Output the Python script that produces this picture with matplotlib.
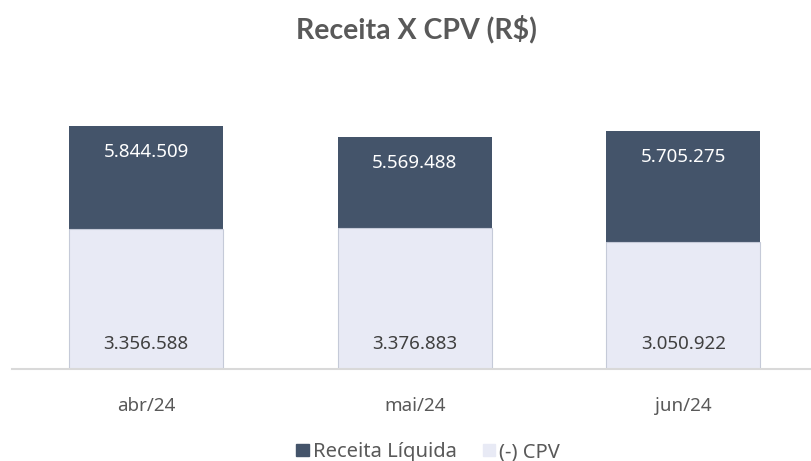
import matplotlib
matplotlib.use("Agg")
import matplotlib.pyplot as plt
from matplotlib.patches import Patch

categories = ["abr/24", "mai/24", "jun/24"]
receita = [5844509, 5569488, 5705275]
cpv = [3356588, 3376883, 3050922]
title = "Receita X CPV (R$)"
series_names = ["Receita Líquida", "(-) CPV"]

def fmt(v):
    return f"{v:,}".replace(",", ".")

dark = "#44546a"
light = "#e8eaf5"
light_edge = "#c5cad8"
text_gray = "#595959"
FONT = "Noto Sans"

fig = plt.figure(figsize=(8.11, 4.61), dpi=100)
ax = fig.add_axes([12/811, 1 - 369/461, 799/811, (369 - 77.4)/461])

x = list(range(len(categories)))
w = 0.574
ax.bar(x, receita, width=w, color=dark, zorder=2)
ax.bar(x, cpv, width=w, color=light, edgecolor=light_edge, linewidth=0.8, zorder=3)

for xi, r, c in zip(x, receita, cpv):
    ax.annotate(fmt(r), (xi, r), xytext=(0, -26), textcoords="offset pixels",
                ha="center", va="center", color="white", fontsize=13.5,
                family=FONT, zorder=5)
    ax.annotate(fmt(c), (xi, 0), xytext=(0, 25), textcoords="offset pixels",
                ha="center", va="center", color="#404040", fontsize=13.5,
                family=FONT, zorder=5)

ax.set_xlim(-0.5, -0.5 + 799/268.5)
ax.set_ylim(0, 7000000)
ax.set_yticks([])
ax.set_xticks(x)
ax.set_xticklabels(categories, fontsize=13.5, color=text_gray, family=FONT)
ax.tick_params(axis="x", length=0, pad=20)
for s in ["top", "right", "left"]:
    ax.spines[s].set_visible(False)
ax.spines["bottom"].set_color("#d9d9d9")
ax.spines["bottom"].set_linewidth(1.5)
ax.spines["bottom"].set_zorder(6)

fig.text(416/811, 1 - 29/461, title, ha="center", va="center", fontsize=20.5,
         fontweight="bold", color=text_gray, family="Lato")

handles = [Patch(facecolor=dark, edgecolor=dark), Patch(facecolor=light, edgecolor=light)]
fig.legend(handles, series_names, loc="center", bbox_to_anchor=(428/811, 1 - 452/461),
           ncol=2, frameon=False, prop={"family": FONT, "size": 14.5},
           labelcolor=text_gray, handlelength=0.6, handleheight=0.6,
           handletextpad=0.2, columnspacing=1.3)

fig.savefig("out.png", dpi=100)
